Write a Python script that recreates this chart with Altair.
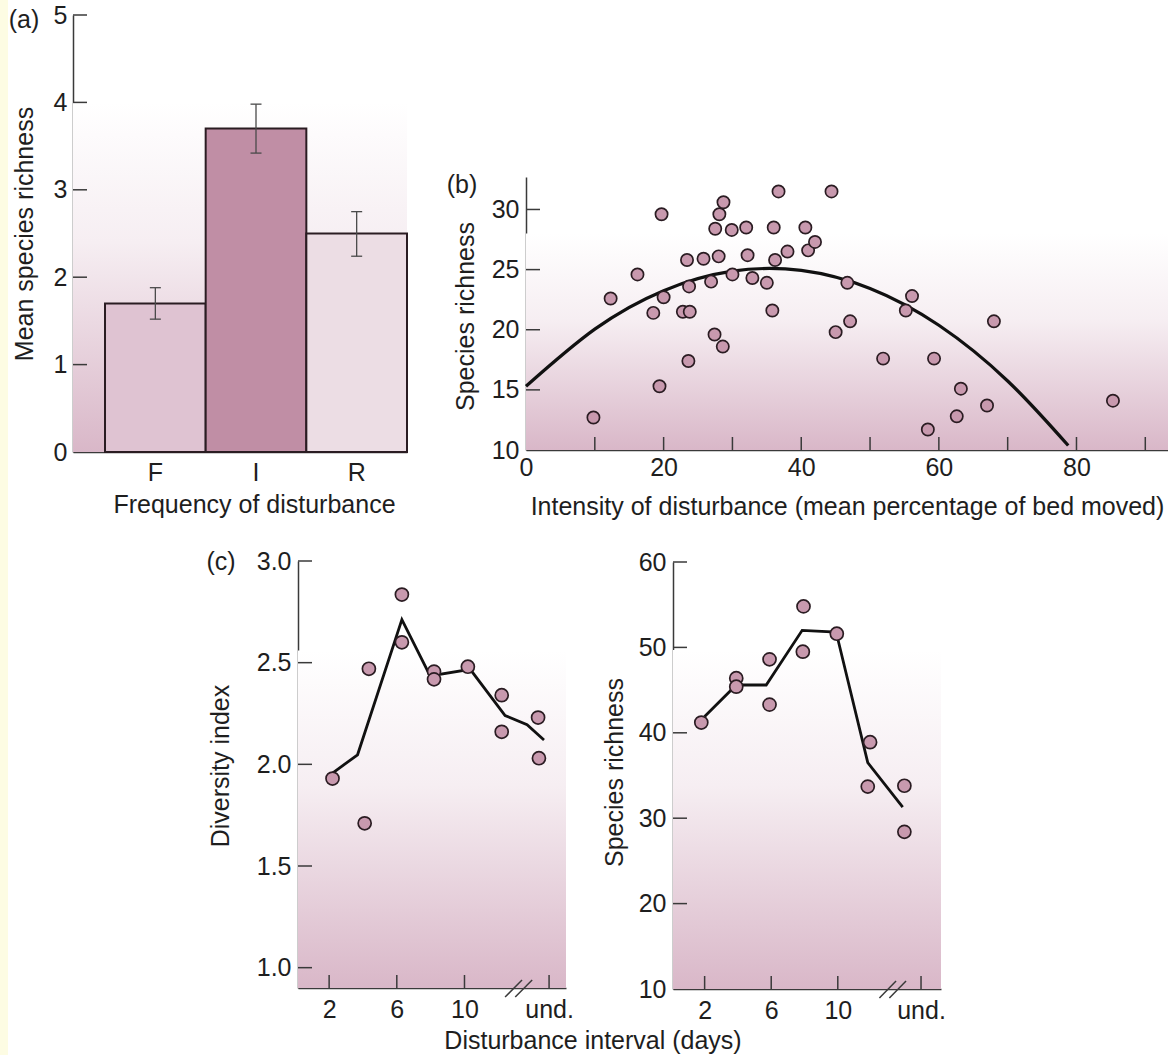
import altair as alt
import pandas as pd

# ---------------- data ----------------
# (a) frequency of disturbance
freq_cats = ["F", "I", "R"]
freq_mean = [1.70, 3.70, 2.50]
freq_err_lo = [1.52, 3.42, 2.24]
freq_err_hi = [1.88, 3.98, 2.75]

# (b) intensity of disturbance vs species richness
bed_moved = [9.8, 12.3, 16.2, 19.7, 19.4, 18.5, 20.0, 23.4, 23.7, 22.8, 23.8, 23.6,
             25.8, 26.9, 27.4, 28.6, 27.5, 28.0, 28.1, 28.7, 29.9, 30.0, 32.0, 32.2,
             32.9, 35.0, 36.0, 36.2, 35.8, 36.7, 38.0, 40.6, 41.0, 42.0, 44.4, 45.0,
             46.7, 47.1, 51.9, 55.2, 56.1, 59.3, 58.4, 62.6, 63.2, 67.0, 68.0, 85.3]
richness_b = [12.7, 22.6, 24.6, 29.6, 15.3, 21.4, 22.7, 25.8, 23.6, 21.5, 21.5, 17.4,
              25.9, 24.0, 19.6, 18.6, 28.4, 26.1, 29.6, 30.6, 28.3, 24.6, 28.5, 26.2,
              24.3, 23.9, 28.5, 25.8, 21.6, 31.5, 26.5, 28.5, 26.6, 27.3, 31.5, 19.8,
              23.9, 20.7, 17.6, 21.6, 22.8, 17.6, 11.7, 12.8, 15.1, 13.7, 20.7, 14.1]
curve_x = [0, 10, 20, 30, 40, 50, 60, 70, 78.8]
curve_y = [15.3, 20.05, 23.25, 24.87, 24.93, 23.43, 20.37, 15.74, 10.37]

# (c) disturbance interval
interval_ticks = [2, 6, 10, 15]
interval_labels = ["2", "6", "10", "und."]

div_x = [2.2, 4.35, 4.1, 6.3, 6.3, 8.2, 8.2, 10.2, 12.2, 12.2, 14.35, 14.4]
div_y = [1.93, 2.47, 1.71, 2.835, 2.60, 2.456, 2.418, 2.48, 2.34, 2.16, 2.23, 2.03]
div_line_x = [2.2, 3.68, 6.3, 7.97, 10.34, 12.4, 13.7, 14.7]
div_line_y = [1.957, 2.047, 2.712, 2.435, 2.467, 2.24, 2.195, 2.12]

rich_x = [1.8, 3.9, 3.9, 5.9, 5.9, 7.94, 7.9, 9.94, 11.94, 11.8, 14.0, 14.0]
rich_y = [41.2, 46.4, 45.4, 48.6, 43.3, 54.8, 49.5, 51.6, 38.9, 33.7, 33.8, 28.4]
rich_line_x = [2.0, 3.9, 5.7, 7.86, 9.9, 11.8, 13.9]
rich_line_y = [41.9, 45.6, 45.6, 52.0, 51.8, 36.5, 31.3]

# ---------------- styles ----------------
FONT = "Liberation Sans"
FS = 25
TXT = "#1e1e1e"
AXIS_COL = "#3a3a3a"
OUTLINE = "#2a1c22"
PT_FILL = "#c899ae"
BAR_COLORS = ["#dfc3d2", "#c08ea5", "#ecdde4"]
YELLOW = "#fdfce3"


def grad():
    return alt.Gradient(
        gradient="linear",
        stops=[alt.GradientStop(color="#ffffff", offset=0),
               alt.GradientStop(color="#f6eef2", offset=0.4),
               alt.GradientStop(color="#d9b7c8", offset=1)],
        x1=0, x2=0, y1=0, y2=1)


def label_text(txt, x, y):
    return alt.Chart(pd.DataFrame({"t": [txt]})).mark_text(
        font=FONT, fontSize=FS, color=TXT, align="center", baseline="middle"
    ).encode(text="t:N", x=alt.value(x), y=alt.value(y))


def ytick_rules(vals, yfun, x0):
    return alt.Chart(pd.DataFrame({"v": vals})).mark_rule(
        color=AXIS_COL, strokeWidth=1.5).encode(
        y=yfun("v"), x=alt.value(x0), x2=alt.value(x0 + 14))


def xtick_rules(vals, xfun, h):
    return alt.Chart(pd.DataFrame({"v": vals})).mark_rule(
        color=AXIS_COL, strokeWidth=1.5).encode(
        x=xfun("v"), y=alt.value(h), y2=alt.value(h - 13))


def points(df, xfun, yfun, size):
    return alt.Chart(df).mark_circle(
        fill=PT_FILL, stroke=OUTLINE, strokeWidth=1.7, size=size, opacity=1
    ).encode(x=xfun("x"), y=yfun("y"))


def break_marks(xfun, h, centre):
    df = pd.DataFrame({"xa": [centre - 0.8, centre - 0.2], "xb": [centre + 0.2, centre + 0.8]})
    return alt.Chart(df).mark_rule(color=AXIS_COL, strokeWidth=1.5).encode(
        x=xfun("xa"), x2="xb:Q", y=alt.value(h + 9), y2=alt.value(h - 8))


# ---------------- panel (a) ----------------
W_A, H_A, A_RANGE = 346, 437, 334
df_a = pd.DataFrame({"cat": freq_cats, "mean": freq_mean,
                     "lo": freq_err_lo, "hi": freq_err_hi})
xa = alt.X("cat:N",
           scale=alt.Scale(domain=freq_cats, range=[0, A_RANGE], paddingInner=0,
                           paddingOuter=0.159, align=1),
           axis=alt.Axis(labelAngle=0, labelPadding=8,
                         title="Frequency of disturbance", titleX=181, titleY=60,
                         titleBaseline="alphabetic", titleAlign="center"))
ya_scale = alt.Scale(domain=[0, 5], nice=False, zero=False)
ya_axis = alt.Axis(values=[0, 1, 2, 3, 4, 5], labelPadding=6,
                   title="Mean species richness", titleX=-49, titleY=H_A / 2,
                   titleAngle=270, titleBaseline="middle", titleAlign="center")


def ya(f):
    return alt.Y(f"{f}:Q", scale=ya_scale, axis=ya_axis)


strip = alt.Chart(pd.DataFrame({"s": [0]})).mark_rect(color=YELLOW).encode(
    x=alt.value(-73), x2=alt.value(-65), y=alt.value(-15), y2=alt.value(1040))
bg_a = alt.Chart(pd.DataFrame({"top": [4.0], "bot": [0.0]})).mark_rect(color=grad()).encode(
    y=ya("top"), y2="bot:Q", x=alt.value(0), x2=alt.value(A_RANGE))
bars = alt.Chart(df_a).mark_bar(stroke=OUTLINE, strokeWidth=2, opacity=1).encode(
    x=xa, y=ya("mean"),
    color=alt.Color("cat:N", scale=alt.Scale(domain=freq_cats, range=BAR_COLORS), legend=None))
errs = alt.Chart(df_a).mark_rule(color="#4a4a4a", strokeWidth=1.3).encode(
    x=xa, y=ya("lo"), y2="hi:Q")
cap_hi = alt.Chart(df_a).mark_tick(orient="horizontal", size=11, thickness=1.3,
                                   color="#4a4a4a", opacity=1).encode(x=xa, y=ya("hi"))
cap_lo = alt.Chart(df_a).mark_tick(orient="horizontal", size=11, thickness=1.3,
                                   color="#4a4a4a", opacity=1).encode(x=xa, y=ya("lo"))
panel_a = alt.layer(
    strip, bg_a, bars, errs, cap_hi, cap_lo,
    ytick_rules([1, 2, 3, 4, 5], ya, 0),
    label_text("(a)", -49, 5),
).properties(width=W_A, height=H_A)

# ---------------- panel (b) ----------------
W_B, H_B, B_TOP = 642, 435, 162
xb_scale = alt.Scale(domain=[0, 93.3], nice=False, zero=False)
yb_scale = alt.Scale(domain=[10, 32.7], nice=False, zero=False, range=[H_B, B_TOP])
xb_axis = alt.Axis(values=[0, 20, 40, 60, 80], format="d", labelPadding=5,
                   title="Intensity of disturbance (mean percentage of bed moved)",
                   titleX=W_B / 2, titleY=64, titleBaseline="alphabetic", titleAlign="center")
yb_axis = alt.Axis(values=[10, 15, 20, 25, 30], format="d", labelPadding=7,
                   title="Species richness", titleX=-61, titleY=301,
                   titleAngle=270, titleBaseline="middle", titleAlign="center")


def xb(f):
    return alt.X(f"{f}:Q", scale=xb_scale, axis=xb_axis)


def yb(f):
    return alt.Y(f"{f}:Q", scale=yb_scale, axis=yb_axis)


bg_b = alt.Chart(pd.DataFrame({"top": [28.0], "bot": [10.0]})).mark_rect(color=grad()).encode(
    y=yb("top"), y2="bot:Q", x=alt.value(0), x2=alt.value(W_B))
curve = alt.Chart(pd.DataFrame({"x": curve_x, "y": curve_y})).mark_line(
    color="#111111", strokeWidth=3.2, interpolate="natural").encode(x=xb("x"), y=yb("y"))
panel_b = alt.layer(
    bg_b, curve,
    points(pd.DataFrame({"x": bed_moved, "y": richness_b}), xb, yb, 150),
    xtick_rules([10, 20, 30, 40, 50, 60, 70, 80, 90], xb, H_B),
    ytick_rules([15, 20, 25, 30], yb, 0),
    label_text("(b)", -64, 170),
).properties(width=W_B, height=H_B)

# ---------------- panel (c) ----------------
lab_expr = " : ".join(f"datum.value == {v} ? '{l}'"
                      for v, l in zip(interval_ticks, interval_labels)) + " : datum.label"

# left: diversity index (cell width 346, plot drawn from x=225 to 493)
C1_X0, C1_X1, W_C1, H_C1 = 225, 493, 346, 427
xc1_scale = alt.Scale(domain=[0.16, 16.0], nice=False, zero=False, range=[C1_X0, C1_X1])
yc1_scale = alt.Scale(domain=[0.9, 3.0], nice=False, zero=False)
xc1_axis = alt.Axis(values=interval_ticks, labelExpr=lab_expr, labelPadding=9,
                    title="Disturbance interval (days)", titleX=C1_X0 + 294.5, titleY=60,
                    titleBaseline="alphabetic", titleAlign="center")
yc1_axis = alt.Axis(values=[1.0, 1.5, 2.0, 2.5, 3.0], format=".1f", offset=-C1_X0,
                    labelPadding=7, title="Diversity index", titleX=-78,
                    titleY=H_C1 / 2 - 9, titleAngle=270, titleBaseline="middle",
                    titleAlign="center")


def xc1(f):
    return alt.X(f"{f}:Q", scale=xc1_scale, axis=xc1_axis)


def yc1(f):
    return alt.Y(f"{f}:Q", scale=yc1_scale, axis=yc1_axis)


bg_c1 = alt.Chart(pd.DataFrame({"top": [2.56], "bot": [0.9]})).mark_rect(color=grad()).encode(
    y=yc1("top"), y2="bot:Q", x=alt.value(C1_X0), x2=alt.value(C1_X1))
line_c1 = alt.Chart(pd.DataFrame({"x": div_line_x, "y": div_line_y})).mark_line(
    color="#111111", strokeWidth=2.8).encode(x=xc1("x"), y=yc1("y"))
panel_c1 = alt.layer(
    bg_c1, line_c1,
    points(pd.DataFrame({"x": div_x, "y": div_y}), xc1, yc1, 170),
    xtick_rules(interval_ticks, xc1, H_C1),
    ytick_rules([1.0, 1.5, 2.0, 2.5, 3.0], yc1, C1_X0),
    break_marks(xc1, H_C1, 13.2),
    label_text("(c)", C1_X0 - 77, 1),
).properties(width=W_C1, height=H_C1)

# right: species richness (cell starts under panel b, plot drawn from x=147)
C2_X0, C2_X1, H_C2, C2_TOP = 147, 415, 428, 1
xc2_scale = alt.Scale(domain=[0.1, 16.2], nice=False, zero=False, range=[C2_X0, C2_X1])
yc2_scale = alt.Scale(domain=[10, 60], nice=False, zero=False, range=[H_C2, C2_TOP])
xc2_axis = alt.Axis(values=interval_ticks, labelExpr=lab_expr, labelPadding=9, title="")
yc2_axis = alt.Axis(values=[10, 20, 30, 40, 50, 60], format="d", labelPadding=7,
                    offset=-C2_X0, title="Species richness", titleX=-59, titleY=211,
                    titleAngle=270, titleBaseline="middle", titleAlign="center")


def xc2(f):
    return alt.X(f"{f}:Q", scale=xc2_scale, axis=xc2_axis)


def yc2(f):
    return alt.Y(f"{f}:Q", scale=yc2_scale, axis=yc2_axis)


bg_c2 = alt.Chart(pd.DataFrame({"top": [49.7], "bot": [10.0]})).mark_rect(color=grad()).encode(
    y=yc2("top"), y2="bot:Q", x=alt.value(C2_X0), x2=alt.value(C2_X1))
line_c2 = alt.Chart(pd.DataFrame({"x": rich_line_x, "y": rich_line_y})).mark_line(
    color="#111111", strokeWidth=2.8).encode(x=xc2("x"), y=yc2("y"))
panel_c2 = alt.layer(
    bg_c2, line_c2,
    points(pd.DataFrame({"x": rich_x, "y": rich_y}), xc2, yc2, 170),
    xtick_rules(interval_ticks, xc2, H_C2),
    ytick_rules([20, 30, 40, 50, 60], yc2, C2_X0),
    break_marks(xc2, H_C2, 13.3),
).properties(width=C2_X1, height=H_C2)

# ---------------- assemble ----------------
chart = alt.concat(
    panel_a, panel_b, panel_c1, panel_c2,
    columns=2, align="none", bounds="flush",
    spacing={"row": 109, "column": 107},
    padding=0, background="white",
).configure_view(strokeWidth=0).configure_axis(
    labelFont=FONT, labelFontSize=FS, labelColor=TXT,
    titleFont=FONT, titleFontSize=FS, titleFontWeight="normal", titleColor=TXT,
    domainColor=AXIS_COL, domainWidth=1.5, ticks=False, tickSize=0, grid=False,
    labelOverlap=False, labelFlush=False,
)

chart.save("out.html", embed_options={"renderer": "svg", "actions": False})
